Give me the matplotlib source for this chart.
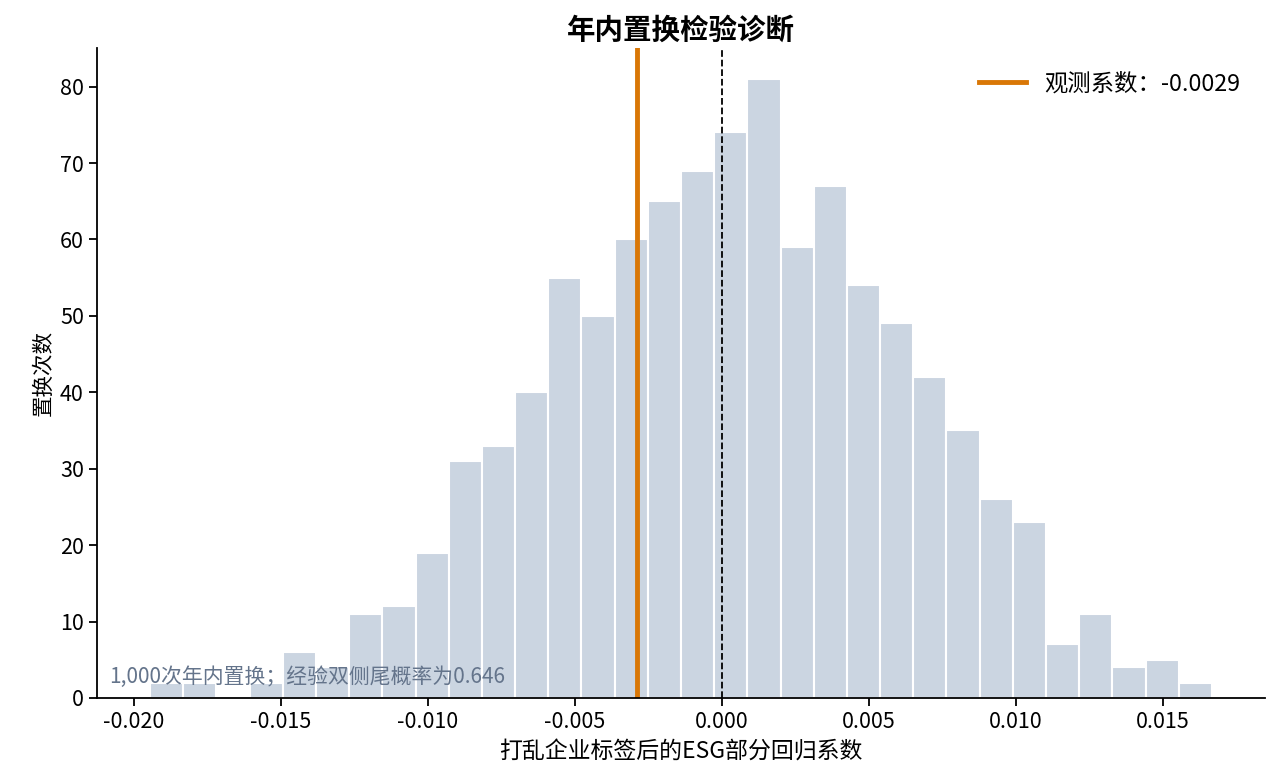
import matplotlib
matplotlib.use('Agg')
import matplotlib.pyplot as plt
import numpy as np

plt.rcParams['font.family'] = ['Noto Sans CJK SC', 'DejaVu Sans']
plt.rcParams['axes.unicode_minus'] = False

# 置换得到的系数分布（32 个等宽分箱）
bin_min = -0.01945
bin_max = 0.01667
counts = [2, 2, 0, 2, 6, 4, 11, 12, 19, 31, 33, 40, 55, 50, 60, 65,
          69, 74, 81, 59, 67, 54, 49, 42, 35, 26, 23, 7, 11, 4, 5, 2]
observed = -0.0029
n_perm = 1000
p_value = 0.646

edges = np.linspace(bin_min, bin_max, len(counts) + 1)

fig = plt.figure(figsize=(12.8, 7.83), dpi=100)
ax = fig.add_axes([0.0758, 0.1086, 0.9125, 0.8301])

ax.bar(edges[:-1], counts, width=np.diff(edges), align='edge',
       color='#cbd5e1', edgecolor='white', linewidth=1.5)
ax.axvline(observed, color='#d97706', linewidth=3.5, label=f'观测系数：{observed:.4f}')
ax.axvline(0, color='black', linewidth=1.3, linestyle='--')

ax.text(0.01, 0.016, f'{n_perm:,}次年内置换；经验双侧尾概率为{p_value:.3f}',
        transform=ax.transAxes, fontsize=15, color='#64748b', ha='left', va='bottom')

ax.set_title('年内置换检验诊断', fontsize=20.5, fontweight='bold', pad=7)
ax.set_xlabel('打乱企业标签后的ESG部分回归系数', fontsize=16.5, labelpad=5)
ax.set_ylabel('置换次数', fontsize=15.5)
ax.tick_params(labelsize=15.5, width=1.3, length=6)
ax.spines['top'].set_visible(False)
ax.spines['right'].set_visible(False)
ax.spines['left'].set_linewidth(1.3)
ax.spines['bottom'].set_linewidth(1.3)
ax.set_xticks([-0.02, -0.015, -0.01, -0.005, 0, 0.005, 0.01, 0.015])
ax.xaxis.set_major_formatter(matplotlib.ticker.FormatStrFormatter('%.3f'))

ax.legend(loc='upper right', frameon=False, fontsize=16.8, handlelength=2.0,
          borderaxespad=0.65)

fig.savefig('out.png', dpi=100)
